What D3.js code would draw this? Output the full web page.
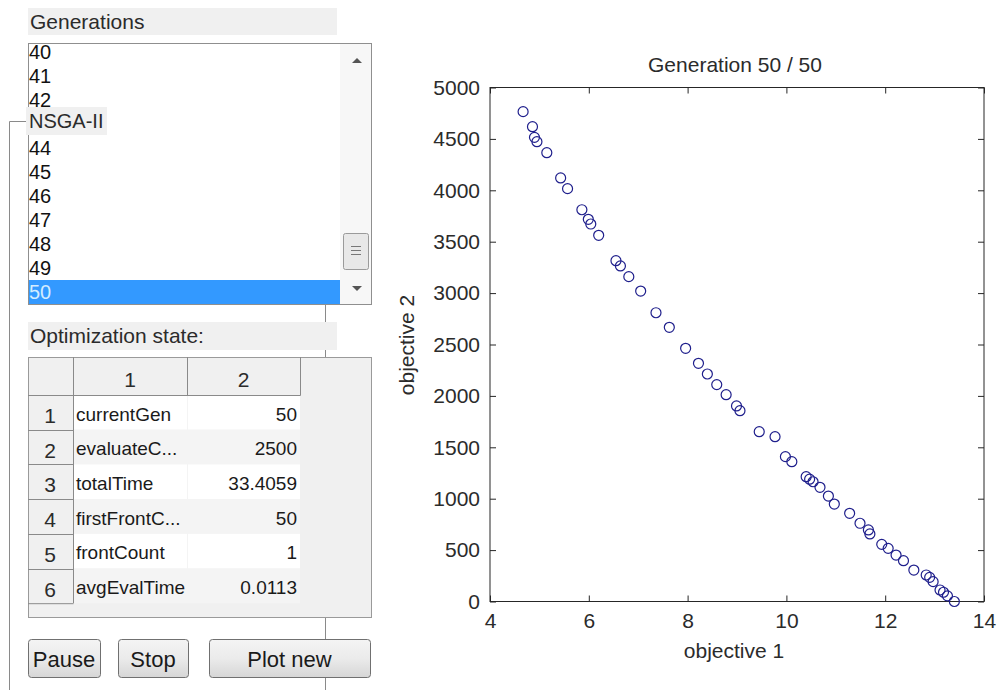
<!DOCTYPE html>
<html>
<head>
<meta charset="utf-8">
<script src="https://cdn.jsdelivr.net/npm/d3@7.9.0/dist/d3.min.js"></script>
<style>
  body { margin: 0; background: #fff; }
  svg { display: block; font-family: "Liberation Sans", Arial, sans-serif; }
</style>
</head>
<body>
<svg id="fig" width="1000" height="690"></svg>
<script>
// Pareto front at generation 50
const obj1 = [4.67, 4.86, 4.90, 4.95, 5.15, 5.43, 5.57, 5.86, 5.99, 6.04,
  6.20, 6.55, 6.64, 6.81, 7.05, 7.36, 7.63, 7.96, 8.22, 8.40,
  8.59, 8.78, 8.99, 9.06, 9.45, 9.77, 9.98, 10.11, 10.40, 10.47,
  10.54, 10.68, 10.85, 10.97, 11.28, 11.49, 11.66, 11.69, 11.93, 12.06,
  12.22, 12.37, 12.58, 12.83, 12.90, 12.97, 13.11, 13.18, 13.26, 13.40];
const obj2 = [4765, 4619, 4515, 4473, 4366, 4120, 4016, 3811, 3718, 3672,
  3562, 3315, 3264, 3160, 3020, 2809, 2667, 2463, 2317, 2213,
  2110, 2012, 1902, 1856, 1652, 1603, 1409, 1360, 1214, 1190,
  1165, 1111, 1026, 948, 858, 761, 696, 657, 556, 517,
  452, 397, 306, 258, 235, 193, 112, 90, 55, 0];

const xTicks = [4, 6, 8, 10, 12, 14];
const yTicks = [0, 500, 1000, 1500, 2000, 2500, 3000, 3500, 4000, 4500, 5000];

// left panel contents
const generations = ["40", "41", "42", "43", "44", "45", "46", "47", "48", "49", "50"];
const hiddenGen = "43"; // sits under the NSGA-II frame title
const stateNames = ["currentGen", "evaluateC...", "totalTime", "firstFrontC...", "frontCount", "avgEvalTime"];
const stateValues = ["50", "2500", "33.4059", "50", "1", "0.0113"];
const buttons = ["Pause", "Stop", "Plot new"];

const svg = d3.select("#fig");
const grey = "#f0f0f0";
const ink = "#2b2b2b";

// ---------- left panel ----------
const panel = svg.append("g");

// NSGA-II frame lines (drawn first, the widgets cover them)
panel.append("path")
  .attr("d", "M26,121.5H9.5V690M325.5,121.5V690")
  .attr("fill", "none").attr("stroke", "#8a8a8a");

// "Generations" label
panel.append("rect").attr("x", 28).attr("y", 8).attr("width", 309).attr("height", 27).attr("fill", grey);
panel.append("text").attr("x", 30).attr("y", 29).attr("font-size", 21).attr("fill", ink).text("Generations");

// listbox
const list = panel.append("g");
list.append("defs").append("clipPath").attr("id", "lbclip")
  .append("rect").attr("x", 29).attr("y", 44).attr("width", 342).attr("height", 260);
list.append("rect").attr("x", 28.5).attr("y", 43.5).attr("width", 343).attr("height", 261)
  .attr("fill", "#fff").attr("stroke", "#8f8f8f");
const rows = list.append("g").attr("clip-path", "url(#lbclip)");
rows.append("rect").attr("x", 29).attr("y", 280).attr("width", 311).attr("height", 24).attr("fill", "#3399ff");
rows.selectAll("text").data(generations.map((g, i) => ({ g, i })).filter(d => d.g !== hiddenGen)).join("text")
  .attr("x", 29).attr("y", d => 59 + d.i * 24)
  .attr("font-size", 20)
  .attr("fill", d => d.i === generations.length - 1 ? "#d4ecff" : "#111")
  .text(d => d.g);
// scrollbar
list.append("rect").attr("x", 340).attr("y", 44).attr("width", 31).attr("height", 260).attr("fill", "#f7f7f7");
list.append("path").attr("d", "M352,63L357,58L362,63Z").attr("fill", "#555");
list.append("path").attr("d", "M352,286L357,291L362,286Z").attr("fill", "#555");
list.append("rect").attr("x", 343.5).attr("y", 233.5).attr("width", 25).attr("height", 36).attr("rx", 2)
  .attr("fill", "#e8e8e8").attr("stroke", "#9a9a9a");
[246, 250, 254].forEach(gy => list.append("line").attr("x1", 351).attr("x2", 361)
  .attr("y1", gy + 0.5).attr("y2", gy + 0.5).attr("stroke", "#777"));

// NSGA-II title over the list
panel.append("rect").attr("x", 26).attr("y", 107).attr("width", 81).attr("height", 28).attr("fill", grey);
panel.append("text").attr("x", 29).attr("y", 128).attr("font-size", 20).attr("fill", ink).text("NSGA-II");

// "Optimization state:" label
panel.append("rect").attr("x", 28).attr("y", 322).attr("width", 309).attr("height", 28).attr("fill", grey);
panel.append("text").attr("x", 30).attr("y", 343).attr("font-size", 21).attr("fill", ink).text("Optimization state:");

// table
const tbl = panel.append("g");
const rowH = 34.7, top0 = 395;
const colX = [28, 73, 187, 300];
tbl.append("rect").attr("x", 28.5).attr("y", 357.5).attr("width", 343).attr("height", 260)
  .attr("fill", grey).attr("stroke", "#9a9a9a");
tbl.selectAll("rect.cell").data(stateNames).join("rect").attr("class", "cell")
  .attr("x", colX[1]).attr("y", (d, i) => top0 + i * rowH)
  .attr("width", colX[3] - colX[1]).attr("height", rowH)
  .attr("fill", (d, i) => i % 2 === 0 ? "#fff" : "#f4f4f4");
tbl.append("line").attr("x1", 187.5).attr("x2", 187.5).attr("y1", top0).attr("y2", top0 + 6 * rowH)
  .attr("stroke", "#f4f4f4");
// header grid
const gridStroke = "#8a8a8a";
tbl.append("path")
  .attr("d", `M28,395.5H300.5V357M73.5,357V${top0 + 6 * rowH}M187.5,357V395M28,${top0 + 6 * rowH + 0.5}H73.5`)
  .attr("fill", "none").attr("stroke", gridStroke);
d3.range(1, 6).forEach(i => tbl.append("line")
  .attr("x1", 28).attr("x2", 73.5)
  .attr("y1", Math.round(top0 + i * rowH) + 0.5).attr("y2", Math.round(top0 + i * rowH) + 0.5)
  .attr("stroke", gridStroke));
tbl.selectAll("text.ch").data(["1", "2"]).join("text").attr("class", "ch")
  .attr("x", (d, i) => (colX[i + 1] + colX[i + 2]) / 2).attr("y", 387)
  .attr("text-anchor", "middle").attr("font-size", 21).attr("fill", ink).text(d => d);
tbl.selectAll("text.rh").data(stateNames).join("text").attr("class", "rh")
  .attr("x", 50).attr("y", (d, i) => 423 + i * rowH)
  .attr("text-anchor", "middle").attr("font-size", 21).attr("fill", ink).text((d, i) => i + 1);
tbl.selectAll("text.nm").data(stateNames).join("text").attr("class", "nm")
  .attr("x", 76).attr("y", (d, i) => 420.5 + i * rowH)
  .attr("font-size", 19).attr("fill", "#1a1a1a").text(d => d);
tbl.selectAll("text.vl").data(stateValues).join("text").attr("class", "vl")
  .attr("x", 297).attr("y", (d, i) => 420.5 + i * rowH)
  .attr("text-anchor", "end").attr("font-size", 19).attr("fill", "#1a1a1a").text(d => d);

// buttons
const grad = svg.append("defs").append("linearGradient").attr("id", "btn")
  .attr("x1", 0).attr("x2", 0).attr("y1", 0).attr("y2", 1);
grad.append("stop").attr("offset", "0%").attr("stop-color", "#f4f4f4");
grad.append("stop").attr("offset", "50%").attr("stop-color", "#ebebeb");
grad.append("stop").attr("offset", "100%").attr("stop-color", "#d6d6d6");
const btnX = [[28, 100], [118, 188], [209, 370]];
const btn = panel.selectAll("g.btn").data(buttons).join("g").attr("class", "btn");
btn.append("rect")
  .attr("x", (d, i) => btnX[i][0] + 0.5).attr("y", 639.5)
  .attr("width", (d, i) => btnX[i][1] - btnX[i][0]).attr("height", 38).attr("rx", 3)
  .attr("fill", "url(#btn)").attr("stroke", "#707070");
btn.append("text")
  .attr("x", (d, i) => (btnX[i][0] + btnX[i][1]) / 2).attr("y", 667)
  .attr("text-anchor", "middle").attr("font-size", 22).attr("fill", "#1a1a1a").text(d => d);

// ---------- scatter plot ----------
const x = d3.scaleLinear().domain([4, 14]).range([490, 984]);
const y = d3.scaleLinear().domain([0, 5000]).range([601.5, 87.5]);
const axisColor = "#262626";

const plot = svg.append("g");
plot.append("rect").attr("x", x(4)).attr("y", y(5000))
  .attr("width", x(14) - x(4)).attr("height", y(0) - y(5000))
  .attr("fill", "#fff").attr("stroke", axisColor);

function styleAxis(g) {
  g.select(".domain").remove();
  g.selectAll(".tick line").attr("stroke", axisColor);
  g.selectAll(".tick text").attr("fill", ink).attr("font-size", 21)
    .attr("font-family", "Liberation Sans, Arial, sans-serif");
}
plot.append("g").attr("transform", `translate(0,${y(0)})`)
  .call(d3.axisBottom(x).tickValues(xTicks).tickSizeInner(-6).tickSizeOuter(0).tickPadding(11.5).tickFormat(d3.format("d")))
  .call(styleAxis);
plot.append("g").attr("transform", `translate(0,${y(5000)})`)
  .call(d3.axisTop(x).tickValues(xTicks).tickSizeInner(-6).tickSizeOuter(0).tickFormat(""))
  .call(styleAxis);
plot.append("g").attr("transform", `translate(${x(4)},0)`)
  .call(d3.axisLeft(y).tickValues(yTicks).tickSizeInner(-6).tickSizeOuter(0).tickPadding(10).tickFormat(d3.format("d")))
  .call(styleAxis);
plot.append("g").attr("transform", `translate(${x(14)},0)`)
  .call(d3.axisRight(y).tickValues(yTicks).tickSizeInner(-6).tickSizeOuter(0).tickFormat(""))
  .call(styleAxis);

plot.selectAll("circle").data(obj1).join("circle")
  .attr("cx", d => x(d)).attr("cy", (d, i) => y(obj2[i]))
  .attr("r", 5).attr("fill", "none").attr("stroke", "#1f1f8c").attr("stroke-width", 1.2);

plot.append("text").attr("x", 735).attr("y", 72).attr("text-anchor", "middle")
  .attr("font-size", 21).attr("fill", ink).text("Generation 50 / 50");
plot.append("text").attr("x", 734).attr("y", 658).attr("text-anchor", "middle")
  .attr("font-size", 21).attr("fill", ink).text("objective 1");
plot.append("text").attr("transform", "translate(414,345) rotate(-90)").attr("text-anchor", "middle")
  .attr("font-size", 21).attr("fill", ink).text("objective 2");
</script>
</body>
</html>
